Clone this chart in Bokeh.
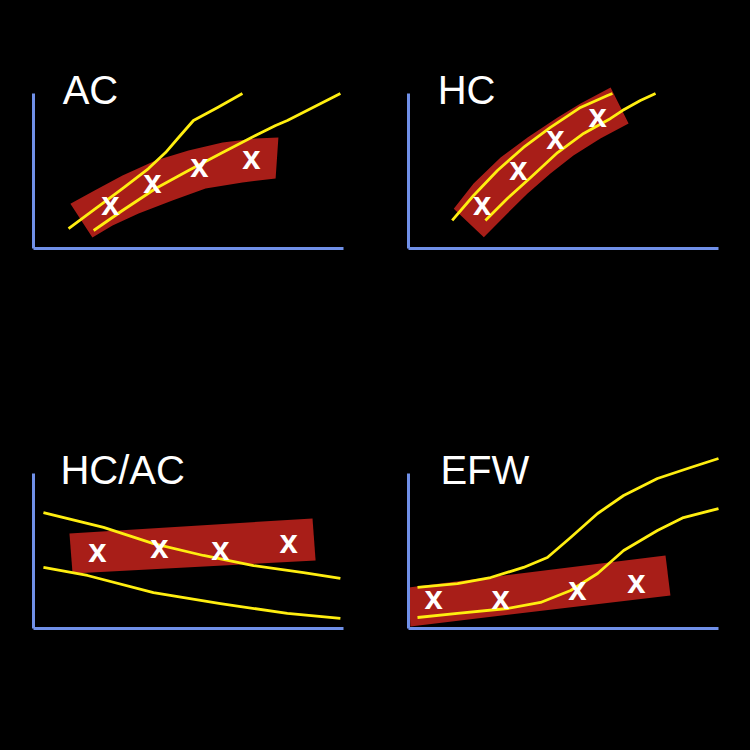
from bokeh.plotting import figure
from bokeh.layouts import gridplot
from bokeh.models import Label, Range1d
from bokeh.embed import file_html
from bokeh.resources import INLINE
from bokeh.core.properties import value

# ---------------- data (arbitrary units: x 0..10 along the axis, y 0..10 up the axis) -------------
titles = ["AC", "HC", "HC/AC", "EFW"]
title_x = [0.94, 0.94, 0.87, 1.03]
title_y = [10.25, 10.25, 10.25, 10.25]

# AC
ac_up_x = [1.13, 2.00, 2.87, 3.71, 4.26, 4.68, 5.16, 5.94, 6.74]
ac_up_y = [1.29, 2.58, 3.87, 5.16, 6.19, 7.16, 8.26, 9.10, 10.0]
ac_lo_x = [1.94, 2.87, 3.94, 5.00, 6.10, 7.16, 7.81, 8.19, 9.90]
ac_lo_y = [1.16, 2.45, 3.87, 5.03, 6.19, 7.29, 7.94, 8.26, 10.0]
ac_band_top_x = [1.19, 1.97, 2.87, 3.94, 5.00, 6.10, 7.16, 7.90]
ac_band_top_y = [2.89, 3.74, 4.71, 5.68, 6.32, 6.84, 7.10, 7.16]
ac_band_bot_x = [1.90, 2.55, 3.39, 4.48, 5.55, 6.74, 7.81]
ac_band_bot_y = [0.71, 1.48, 2.26, 3.10, 3.87, 4.26, 4.52]
ac_pts_x = [2.48, 3.84, 5.35, 7.03]
ac_pts_y = [2.77, 4.17, 5.18, 5.68]

# HC
hc_up_x = [1.41, 2.10, 2.87, 3.71, 4.58, 5.55, 6.42, 6.58]
hc_up_y = [1.81, 3.42, 5.03, 6.52, 7.81, 9.10, 9.87, 10.0]
hc_lo_x = [2.48, 3.19, 3.94, 4.81, 5.65, 6.52, 6.90, 7.48, 7.97]
hc_lo_y = [1.81, 3.23, 4.58, 6.19, 7.42, 8.39, 8.90, 9.55, 10.0]
hc_band_top_x = [1.46, 2.10, 2.97, 3.84, 4.81, 5.55, 6.52]
hc_band_top_y = [2.56, 4.19, 5.87, 7.16, 8.45, 9.35, 10.39]
hc_band_bot_x = [2.43, 3.19, 3.84, 4.58, 5.32, 6.19, 7.10]
hc_band_bot_y = [0.73, 2.26, 3.55, 4.84, 6.00, 7.10, 8.06]
hc_pts_x = [2.38, 3.55, 4.74, 6.10]
hc_pts_y = [2.77, 5.03, 6.97, 8.45]

# HC/AC
ra_up_x = [0.32, 2.26, 3.87, 5.48, 7.10, 8.71, 9.90]
ra_up_y = [7.48, 6.52, 5.48, 4.71, 4.06, 3.61, 3.23]
ra_lo_x = [0.32, 1.74, 3.87, 6.03, 8.19, 9.90]
ra_lo_y = [3.94, 3.42, 2.32, 1.61, 0.97, 0.65]
ra_band_top_x = [1.16, 9.00]
ra_band_top_y = [6.13, 7.10]
ra_band_bot_x = [1.26, 9.10]
ra_band_bot_y = [3.55, 4.39]
ra_pts_x = [2.06, 4.06, 6.03, 8.23]
ra_pts_y = [4.84, 5.10, 5.03, 5.48]

# EFW
ef_up_x = [0.29, 1.58, 2.65, 3.71, 4.48, 5.23, 6.10, 6.94, 8.03, 9.10, 10.0]
ef_up_y = [2.65, 2.90, 3.29, 3.94, 4.58, 5.87, 7.42, 8.58, 9.68, 10.39, 10.97]
ef_lo_x = [0.29, 1.58, 3.19, 4.26, 5.23, 6.10, 6.94, 8.03, 8.87, 10.0]
ef_lo_y = [0.71, 0.97, 1.29, 1.68, 2.45, 3.55, 5.03, 6.32, 7.16, 7.74]
ef_band_top_x = [0.0, 8.29]
ef_band_top_y = [2.65, 4.71]
ef_band_bot_x = [0.06, 8.45]
ef_band_bot_y = [0.13, 2.13]
ef_pts_x = [0.81, 2.97, 5.45, 7.35]
ef_pts_y = [1.81, 1.81, 2.45, 2.90]

# ---------------- styling ----------------
BG = "#000000"
AXIS = "#7090e8"
YELLOW = "#ffee10"
RED = "#a81e18"

panels = [
    dict(up=(ac_up_x, ac_up_y), lo=(ac_lo_x, ac_lo_y),
         bt=(ac_band_top_x, ac_band_top_y), bb=(ac_band_bot_x, ac_band_bot_y),
         pts=(ac_pts_x, ac_pts_y), bl=25, br=12, bt_=46, bb_=127),
    dict(up=(hc_up_x, hc_up_y), lo=(hc_lo_x, hc_lo_y),
         bt=(hc_band_top_x, hc_band_top_y), bb=(hc_band_bot_x, hc_band_bot_y),
         pts=(hc_pts_x, hc_pts_y), bl=33, br=4, bt_=46, bb_=127),
    dict(up=(ra_up_x, ra_up_y), lo=(ra_lo_x, ra_lo_y),
         bt=(ra_band_top_x, ra_band_top_y), bb=(ra_band_bot_x, ra_band_bot_y),
         pts=(ra_pts_x, ra_pts_y), bl=25, br=12, bt_=59, bb_=114),
    dict(up=(ef_up_x, ef_up_y), lo=(ef_lo_x, ef_lo_y),
         bt=(ef_band_top_x, ef_band_top_y), bb=(ef_band_bot_x, ef_band_bot_y),
         pts=(ef_pts_x, ef_pts_y), bl=33, br=4, bt_=59, bb_=114),
]

FW, FH = 330, 194
figs = []
for i, pd in enumerate(panels):
    p = figure(frame_width=FW, frame_height=FH,
               x_range=Range1d(0, FW / 31.0), y_range=Range1d(0, FH / 15.5),
               output_backend="svg", toolbar_location=None,
               min_border_left=pd["bl"], min_border_right=pd["br"],
               min_border_top=pd["bt_"], min_border_bottom=pd["bb_"],
               background_fill_color=BG, border_fill_color=BG,
               outline_line_color=None)
    p.grid.visible = False
    for ax in (p.xaxis, p.yaxis):
        ax.ticker = []
        ax.bounds = (0, 10)
        ax.axis_line_color = AXIS
        ax.axis_line_width = 3
        ax.major_tick_line_color = None
        ax.minor_tick_line_color = None
        ax.major_label_text_font_size = "0px"

    tx, ty = pd["bt"]
    bx, by = pd["bb"]
    p.patch(list(tx) + list(bx)[::-1], list(ty) + list(by)[::-1],
            fill_color=RED, line_color=None)
    p.line(*pd["up"], line_color=YELLOW, line_width=2.8, line_join="round")
    p.line(*pd["lo"], line_color=YELLOW, line_width=2.8, line_join="round")
    px, py = pd["pts"]
    p.text(px, py, text=["x"] * len(px), text_color="white",
           text_font=value("Liberation Sans"), text_font_style="bold",
           text_font_size="33px", text_align="center",
           text_baseline="alphabetic", y_offset=-2.5)
    p.add_layout(Label(x=title_x[i], y=title_y[i], text=titles[i],
                       text_color="white", text_font="Liberation Sans",
                       text_font_size="40px", text_baseline="alphabetic",
                       text_align="left"))
    figs.append(p)

grid = gridplot([[figs[0], figs[1]], [figs[2], figs[3]]], toolbar_location=None)

html = file_html(grid, INLINE)
html = html.replace("</head>", "<style>html,body{background:#000000;}body{margin:8px;}</style></head>")
open("out.html", "w").write(html)
